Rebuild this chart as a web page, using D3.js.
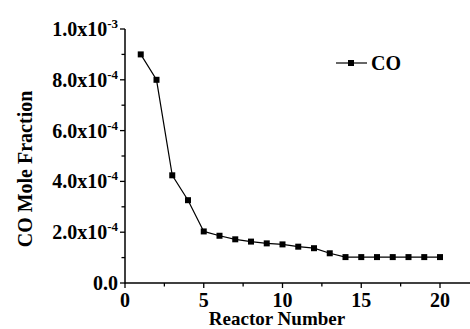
<!DOCTYPE html>
<html>
<head>
<meta charset="utf-8">
<script src="https://d3js.org/d3.v7.min.js"></script>
<style>
body { margin: 0; background: #fff; }
</style>
</head>
<body>
<script>

var reactors = [1, 2, 3, 4, 5, 6, 7, 8, 9, 10, 11, 12, 13, 14, 15, 16, 17, 18, 19, 20];
var coFraction = [9.0e-4, 8.0e-4, 4.24e-4, 3.26e-4, 2.03e-4, 1.86e-4, 1.72e-4, 1.63e-4, 1.56e-4, 1.52e-4,
                  1.43e-4, 1.37e-4, 1.17e-4, 1.02e-4, 1.02e-4, 1.02e-4, 1.02e-4, 1.02e-4, 1.02e-4, 1.02e-4];
var xTicks = [0, 5, 10, 15, 20];
var yTicks = [0, 2e-4, 4e-4, 6e-4, 8e-4, 1e-3];
var yTickLabels = [["0.0", ""], ["2.0x10", "-4"], ["4.0x10", "-4"], ["6.0x10", "-4"], ["8.0x10", "-4"], ["1.0x10", "-3"]];

var width = 470,
    height = 329;

var svg = d3.select('body').append('svg')
  .attr('width', width)
  .attr('height', height)
  .attr('font-family', 'Liberation Serif, Times New Roman, DejaVu Serif, serif')
  .attr('font-weight', 'bold');

var x = d3.scaleLinear().domain([0, 22]).range([125, 471.5]);
var y = d3.scaleLinear().domain([0, 1e-3]).range([283, 29]);

// minor ticks
svg.append('g')
  .selectAll('line')
  .data(d3.range(0, 22.1, 2.5))
  .enter().append('line')
  .attr('x1', d => x(d)).attr('x2', d => x(d))
  .attr('y1', y(0)).attr('y2', d => y(0) + (d % 5 === 0 ? 5 : 3.5))
  .attr('stroke', '#000').attr('stroke-width', 1.3);

svg.append('g')
  .selectAll('line')
  .data(d3.range(0, 11).map(i => i * 1e-4))
  .enter().append('line')
  .attr('y1', d => y(d)).attr('y2', d => y(d))
  .attr('x1', x(0)).attr('x2', (d, i) => x(0) - (i % 2 === 0 ? 5 : 3.5))
  .attr('stroke', '#000').attr('stroke-width', 1.3);

// axis lines
svg.append('line')
  .attr('x1', x(0)).attr('x2', x(0))
  .attr('y1', y(0) + 0.6).attr('y2', y(1e-3))
  .attr('stroke', '#000').attr('stroke-width', 1.5);
svg.append('line')
  .attr('x1', x(0)).attr('x2', width)
  .attr('y1', y(0)).attr('y2', y(0))
  .attr('stroke', '#000').attr('stroke-width', 1.5);

// tick labels
svg.append('g')
  .selectAll('text')
  .data(xTicks)
  .enter().append('text')
  .attr('x', d => x(d))
  .attr('y', 307)
  .attr('text-anchor', 'middle')
  .style('font-size', '20px')
  .text(d => d);

var yl = svg.append('g')
  .selectAll('text')
  .data(yTicks)
  .enter().append('text')
  .attr('x', 118)
  .attr('y', d => y(d) + 7)
  .attr('text-anchor', 'end')
  .style('font-size', '20px');
yl.append('tspan').text((d, i) => yTickLabels[i][0]);
yl.append('tspan')
  .attr('dy', -8)
  .style('font-size', '13px')
  .text((d, i) => yTickLabels[i][1]);

// axis titles
svg.append('text')
  .attr('x', 277)
  .attr('y', 325)
  .attr('text-anchor', 'middle')
  .style('font-size', '19px')
  .text('Reactor Number');

svg.append('text')
  .attr('transform', 'translate(32,' + 169 + ') rotate(-90)')
  .attr('text-anchor', 'middle')
  .style('font-size', '20px')
  .text('CO Mole Fraction');

// series
var line = d3.line()
  .x((d, i) => x(reactors[i]))
  .y(d => y(d));

svg.append('path')
  .datum(coFraction)
  .attr('fill', 'none')
  .attr('stroke', '#000')
  .attr('stroke-width', 1.2)
  .attr('d', line);

svg.append('g')
  .selectAll('rect')
  .data(coFraction)
  .enter().append('rect')
  .attr('x', (d, i) => x(reactors[i]) - 3)
  .attr('y', d => y(d) - 3)
  .attr('width', 6)
  .attr('height', 6)
  .attr('fill', '#000');

// legend
var lg = svg.append('g');
lg.append('line')
  .attr('x1', 336).attr('x2', 367)
  .attr('y1', 63).attr('y2', 63)
  .attr('stroke', '#000').attr('stroke-width', 1.2);
lg.append('rect')
  .attr('x', 348).attr('y', 60)
  .attr('width', 6).attr('height', 6)
  .attr('fill', '#000');
lg.append('text')
  .attr('x', 371)
  .attr('y', 70)
  .style('font-size', '20px')
  .text('CO');

</script>
</body>
</html>
